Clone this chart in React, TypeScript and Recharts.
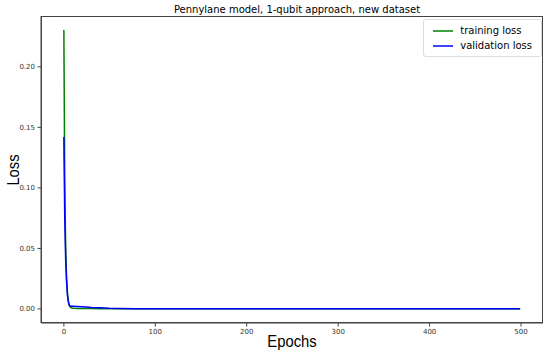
import React from "react";
import { LineChart, Line, XAxis, YAxis } from "recharts";

const epochs = [0, 1, 2, 3, 4, 5, 6, 7, 8, 10, 15, 20, 25, 30, 40, 50, 60, 80, 100, 150, 200, 250, 300, 350, 400, 450, 499];
const trainingLoss = [0.2305, 0.1, 0.05, 0.025, 0.012, 0.006, 0.003, 0.0015, 0.001, 0.0006, 0.0004, 0.0003, 0.0003, 0.0003, 0.0002, 0.0002, 0.0002, 0.0002, 0.0001, 0.0001, 0.0001, 0.0001, 0.0001, 0.0001, 0.0001, 0.0001, 0.0001];
const validationLoss = [0.142, 0.075, 0.04, 0.022, 0.011, 0.0055, 0.003, 0.0024, 0.0022, 0.0022, 0.0021, 0.0019, 0.0016, 0.0013, 0.0009, 0.0005, 0.0003, 0.0002, 0.0002, 0.0001, 0.0001, 0.0001, 0.0001, 0.0001, 0.0001, 0.0001, 0.0001];
const xTicks = [0, 100, 200, 300, 400, 500];
const yTicks = [0, 0.05, 0.1, 0.15, 0.2];
const seriesNames = ["training loss", "validation loss"];
const seriesColors = ["green", "blue"];

const data = epochs.map((e, i) => ({ epoch: e, train: trainingLoss[i], val: validationLoss[i] }));

const tickStyle = { fontSize: 7, fill: "#333", fontFamily: "DejaVu Sans" };
const labelFont = "'Liberation Sans', sans-serif";

export default function App() {
  return (
    <div style={{ position: "absolute", left: 0, top: 0, width: 550, height: 353, background: "#fff" }}>
      <LineChart width={550} height={353} data={data} margin={{ top: 16, right: 7, left: 0, bottom: 0 }}>
        <XAxis
          dataKey="epoch"
          type="number"
          domain={[-25, 524]}
          ticks={xTicks}
          allowDataOverflow
          tick={tickStyle}
          tickSize={3.5}
          tickMargin={2.5}
          height={30}
          stroke="#444"
          interval={0}
        />
        <YAxis
          type="number"
          domain={[-0.0116, 0.242]}
          ticks={yTicks}
          allowDataOverflow
          tick={tickStyle}
          tickSize={3.5}
          tickMargin={2.5}
          width={41}
          stroke="#444"
          interval={0}
          tickFormatter={(v: number) => v.toFixed(2)}
        />
        <Line type="linear" dataKey="train" stroke={seriesColors[0]} strokeWidth={1.5} dot={false} isAnimationActive={false} name={seriesNames[0]} />
        <Line type="linear" dataKey="val" stroke={seriesColors[1]} strokeWidth={1.5} dot={false} isAnimationActive={false} name={seriesNames[1]} />
        <text x={297} y={13} textAnchor="middle" fontSize={10} fontFamily="DejaVu Sans" fill="#000">
          Pennylane model, 1-qubit approach, new dataset
        </text>
        <text x={0} y={0} textAnchor="middle" fontSize={17} fontFamily={labelFont} fill="#000" transform="translate(292 346.5) scale(0.87 1)">
          Epochs
        </text>
        <text x={0} y={0} textAnchor="middle" fontSize={17} fontFamily={labelFont} fill="#000" transform="translate(19 170) rotate(-90) scale(0.87 1)">
          Loss
        </text>
      </LineChart>
      <div style={{ position: "absolute", left: 41, top: 16, width: 502, height: 307, border: "1px solid #444", boxSizing: "border-box", pointerEvents: "none" }} />
      <div
        style={{
          position: "absolute",
          right: 8,
          top: 19,
          border: "1px solid #ddd",
          borderRadius: 3,
          background: "#fff",
          padding: "3px 9px 3px 9px",
          fontFamily: "DejaVu Sans",
          fontSize: 10,
          color: "#000",
          lineHeight: "15px",
        }}
      >
        {seriesNames.map((t, i) => (
          <div key={t} style={{ display: "flex", alignItems: "center" }}>
            <svg width={20} height={4} style={{ marginRight: 7 }}>
              <line x1={0} y1={2} x2={20} y2={2} stroke={seriesColors[i]} strokeWidth={1.5} />
            </svg>
            <span>{t}</span>
          </div>
        ))}
      </div>
    </div>
  );
}
